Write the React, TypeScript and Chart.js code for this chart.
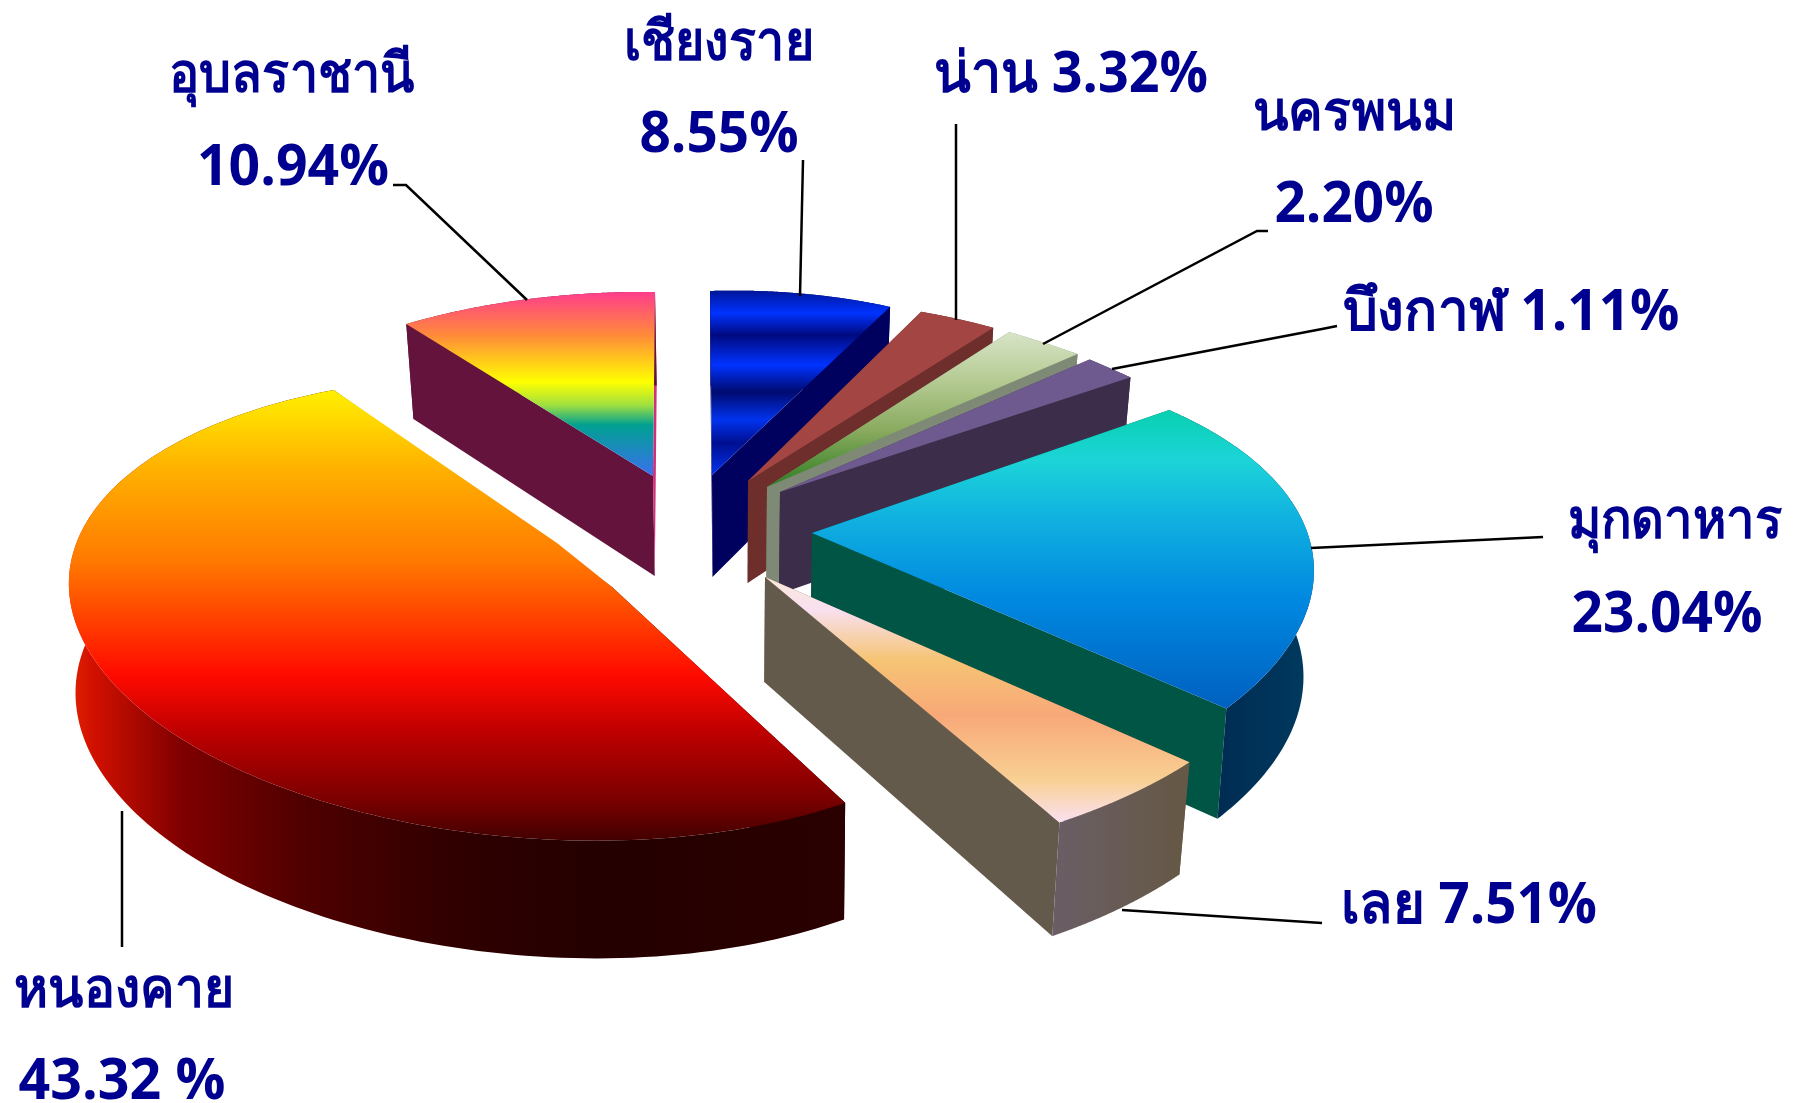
import React, { useEffect, useRef } from "react";
import { Chart, registerables } from "chart.js";

Chart.register(...registerables);

// ---- data ----
const provinces = ["เชียงราย", "น่าน", "นครพนม", "บึงกาฬ", "มุกดาหาร", "เลย", "หนองคาย", "อุบลราชานี"];
const percents = [8.55, 3.32, 2.2, 1.11, 23.04, 7.51, 43.32, 10.94];
const labelTexts = [
  "เชียงราย", "8.55%", "น่าน 3.32%", "นครพนม", "2.20%", "บึงกาฬ 1.11%",
  "มุกดาหาร", "23.04%", "เลย 7.51%", "หนองคาย", "43.32 %", "อุบลราชานี", "10.94%",
];

// ---- styling: label placement, parallel to labelTexts (centre x, baseline y, width, thai) ----
const labelPlacement = [
  { x: 719, y: 60, w: 190, th: true }, { x: 719, y: 152, w: 159 },
  { x: 1071, y: 92, w: 274 },
  { x: 1354, y: 130, w: 203, th: true }, { x: 1354, y: 222, w: 159 },
  { x: 1511, y: 330, w: 337 },
  { x: 1675, y: 538, w: 215, th: true }, { x: 1667, y: 632, w: 191 },
  { x: 1469, y: 923, w: 256 },
  { x: 124, y: 1007, w: 220, th: true }, { x: 122, y: 1099, w: 207 },
  { x: 292, y: 92, w: 246, th: true }, { x: 293, y: 185, w: 192 },
];

// ---- styling: projection of each slice (centre, scale, shear, depth, wall convergence) ----
const projections = [
  { ax: 712, ay: 475, a: 427, b: -2.5, c: -13, d: 230, h: 102, conv: 0.022 },
  { ax: 748, ay: 481, a: 458, b: -28, c: -23, d: 225.6, h: 102, conv: 0.022 },
  { ax: 767, ay: 487, a: 598, b: -162, c: 23, d: 271, h: 102, conv: 0.022 },
  { ax: 780, ay: 492, a: 672, b: -254, c: 81, d: 341, h: 102, conv: 0.022 },
  { ax: 812, ay: 533, a: 486, b: 0, c: -21, d: 222.7, h: 104, conv: 0.018, spread: 0.95, twist: 0 },
  { ax: 765, ay: 577, a: 491.7, b: -54.9, c: -41.4, d: 216.8, h: 105, conv: 0.022, spread: 0.6, twist: 0 },
  { ax: 532, ay: 550, a: 458, b: -47, c: 0, d: 218, h: 108, conv: 0.01, spread: 1.154, twist: 1.4, bends: [[25, -7], [80, 37]] },
  { ax: 653, ay: 476, a: 467, b: 2.5, c: 5.6, d: 230, h: 100, conv: 0.022 },
];
const drawOrder = [7, 0, 1, 2, 3, 4, 5, 6];
const topStops: [number, string][][] = [
  [[291, "#00159a"], [313, "#0033ff"], [335, "#000a80"], [365, "#0033ff"], [392, "#000a70"], [420, "#0033ee"], [443, "#000f90"], [475, "#0033ee"]],
  [[300, "#a34542"], [490, "#a34542"]],
  [[332, "#d8e4c8"], [380, "#b5cb93"], [430, "#8aab60"], [487, "#2e7d20"]],
  [[359, "#6f5a8f"], [492, "#6f5a8f"]],
  [[410, "#08d0b0"], [460, "#1cd4d8"], [520, "#10b0e0"], [600, "#0088e0"], [708, "#0060c0"]],
  [[577, "#fde8d8"], [610, "#f8e0f0"], [660, "#f6c474"], [715, "#f8a878"], [780, "#f8d094"], [822, "#fbe0f0"]],
  [[390, "#fff000"], [470, "#ffb000"], [560, "#ff7a00"], [620, "#ff4000"], [675, "#ff0a00"], [730, "#c00000"], [800, "#7a0000"], [842, "#400000"]],
  [[292, "#ff3d8c"], [335, "#ff8a3a"], [382, "#ffff00"], [405, "#a0e040"], [425, "#00a090"], [476, "#3a70f0"]],
];
const faceColors = ["#00005e", "#6e2e2c", "#7e8a76", "#3c2e4a", "#005544", "#645a4c", "#2a0000", "#64143c"];
const endFaceColors = ["#00005e", "#6e2e2c", "#7e8a76", "#3c2e4a", "#005544", "#645a4c", "#2a0000", "#d0307a"];
const rimStops: ([number, string][] | null)[] = [
  null, null, null, null,
  [[1205, "#002a50"], [1314, "#003a60"]],
  [[1054, "#6a5e66"], [1179, "#665846"]],
  [[71, "#e02000"], [95, "#d01000"], [180, "#800000"], [300, "#500000"], [450, "#300000"], [600, "#240000"], [846, "#2a0000"]],
  null,
];
const leaderLines = [
  [[803, 160], [800, 296]],
  [[956, 124], [956, 320]],
  [[1268, 231], [1257, 231], [1043, 344]],
  [[1337, 326], [1322, 329], [1112, 369]],
  [[1543, 537], [1311, 548]],
  [[1322, 923], [1122, 910]],
  [[122, 811], [122, 947]],
  [[393, 185], [406, 185], [527, 300]],
];

const VANISH_X = 733;
const PERSP = 4;

function project(p: any, theta: number) {
  const X = Math.sin(theta);
  const Y = Math.cos(theta);
  const s = PERSP / (PERSP + Y);
  return { x: p.ax + p.a * X * s + p.b * Y * s, y: p.ay + p.c * X * s - p.d * Y * s, s };
}
function lower(p: any, q: { x: number; y: number; s: number }) {
  return { x: q.x - (q.x - VANISH_X) * p.conv, y: q.y + p.h * Math.pow(q.s, 0.3) };
}
function fillPoly(ctx: CanvasRenderingContext2D, pts: { x: number; y: number }[], fill: any) {
  ctx.beginPath();
  pts.forEach((q, i) => (i ? ctx.lineTo(q.x, q.y) : ctx.moveTo(q.x, q.y)));
  ctx.closePath();
  ctx.fillStyle = fill;
  ctx.fill();
}

const slices3d = {
  id: "slices3d",
  beforeDatasetsDraw(chart: any) {
    const ctx: CanvasRenderingContext2D = chart.ctx;
    const arcs = chart.getDatasetMeta(0).data;
    for (const i of drawOrder) {
      const p: any = projections[i];
      let t0 = arcs[i].startAngle + Math.PI / 2;
      let t1 = arcs[i].endAngle + Math.PI / 2;
      if (p.spread) {
        const mid = (t0 + t1) / 2 + (p.twist * Math.PI) / 180;
        const half = ((t1 - t0) / 2) * p.spread;
        t0 = mid - half;
        t1 = mid + half;
      }
      const hub = (p.bends || [[0, 0]]).map(([dx, dy]: number[]) => ({ x: p.ax + dx, y: p.ay + dy, s: 1 }));
      const apex = hub[hub.length - 1];
      const rim: any[] = [];
      const steps = 160;
      for (let k = 0; k <= steps; k++) rim.push(project(p, t0 + ((t1 - t0) * k) / steps));
      const rimLow = rim.map((q) => lower(p, q));
      const apexLow = lower(p, apex);
      // cut faces
      fillPoly(ctx, [apex, rim[0], rimLow[0], apexLow], faceColors[i]);
      fillPoly(ctx, [apex, rim[steps], rimLow[steps], apexLow], endFaceColors[i]);
      // outer wall
      let wall: any = faceColors[i];
      const rs = rimStops[i];
      if (rs) {
        const x0 = rs[0][0];
        const x1 = rs[rs.length - 1][0];
        wall = ctx.createLinearGradient(x0, 0, x1, 0);
        rs.forEach(([x, col]) => wall.addColorStop((x - x0) / (x1 - x0), col));
      }
      fillPoly(ctx, [...rim, ...rimLow.slice().reverse()], wall);
      // top surface
      const ts = topStops[i];
      const y0 = ts[0][0];
      const y1 = ts[ts.length - 1][0];
      const g = ctx.createLinearGradient(0, y0, 0, y1);
      ts.forEach(([y, col]) => g.addColorStop((y - y0) / (y1 - y0), col));
      fillPoly(ctx, [...hub, ...rim], g);
    }
    return false;
  },
  afterDraw(chart: any) {
    const ctx: CanvasRenderingContext2D = chart.ctx;
    ctx.save();
    ctx.strokeStyle = "#000";
    ctx.lineWidth = 2.5;
    for (const l of leaderLines) {
      ctx.beginPath();
      l.forEach(([x, y], i) => (i ? ctx.lineTo(x, y) : ctx.moveTo(x, y)));
      ctx.stroke();
    }
    ctx.fillStyle = "#000090";
    ctx.textAlign = "center";
    ctx.textBaseline = "alphabetic";
    labelTexts.forEach((t, i) => {
      const l: any = labelPlacement[i];
      ctx.font = `bold ${l.th ? 55 : 57}px "Open Sans", "Noto Sans", sans-serif`;
      ctx.fillText(t, l.x, l.y, l.w);
    });
    ctx.restore();
  },
};

export default function App() {
  const ref = useRef<HTMLCanvasElement>(null);
  useEffect(() => {
    document.body.style.margin = "0";
    const chart = new Chart(ref.current as HTMLCanvasElement, {
      type: "pie",
      data: { labels: provinces, datasets: [{ data: percents, borderWidth: 0 }] },
      options: {
        animation: false,
        responsive: false,
        rotation: 0,
        plugins: { legend: { display: false }, tooltip: { enabled: false } },
      },
      plugins: [slices3d],
    } as any);
    return () => chart.destroy();
  }, []);
  return <canvas ref={ref} width={1795} height={1103} style={{ display: "block", width: 1795, height: 1103 }} />;
}
